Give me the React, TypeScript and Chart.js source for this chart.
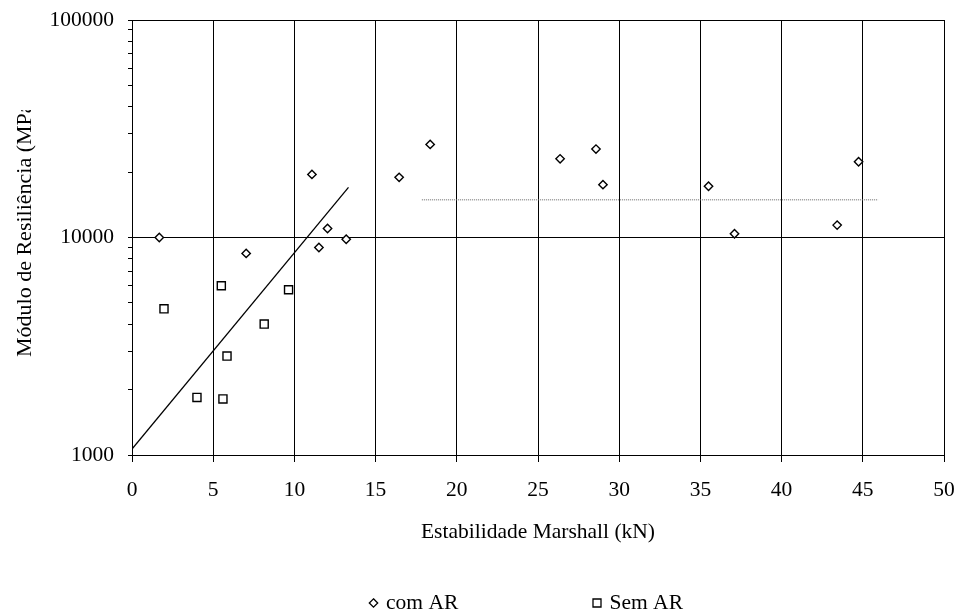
import React, { useEffect, useRef } from "react";
import { Chart, registerables } from "chart.js";

Chart.register(...registerables);

// ---- data ----
const comArX = [1.68, 7.03, 11.08, 12.04, 11.51, 13.19, 16.45, 18.36, 26.36, 28.57, 29.0, 35.5, 37.1, 43.42, 44.74];
const comArY = [10000, 8450, 19500, 11000, 9000, 9820, 18900, 26800, 23000, 25500, 17500, 17200, 10400, 11400, 22300];
const semArX = [1.97, 5.5, 9.64, 8.14, 5.85, 4.0, 5.6];
const semArY = [4700, 6000, 5750, 4000, 2850, 1840, 1810];
const trendX = [0, 13.33];
const trendY = [1066, 17000];
const meanX = [17.85, 45.94];
const meanY = [14900, 14900];
const xTickValues = [0, 5, 10, 15, 20, 25, 30, 35, 40, 45, 50];
const yTickValues = [
  1000, 2000, 3000, 4000, 5000, 6000, 7000, 8000, 9000,
  10000, 20000, 30000, 40000, 50000, 60000, 70000, 80000, 90000,
  100000,
];
const yMajorTicks = [1000, 10000, 100000];
const seriesLabels = ["com AR", "Sem AR"];
const xTitle = "Estabilidade Marshall (kN)";
const yTitle = "Módulo de Resiliência (MPa)";

const FONT_FAMILY = '"Liberation Serif", "Times New Roman", serif';
const FONT_SIZE = 21.5;

const toPoints = (xs: number[], ys: number[]) => xs.map((x, i) => ({ x, y: ys[i] }));

export default function App() {
  const ref = useRef<HTMLCanvasElement | null>(null);

  useEffect(() => {
    document.body.style.margin = "0";
    const canvas = ref.current;
    if (!canvas) return;

    const yTitlePlugin = {
      id: "yTitleClipped",
      afterDraw(chart: any) {
        const ctx = chart.ctx;
        ctx.save();
        ctx.beginPath();
        ctx.rect(0, 110, 60, 300);
        ctx.clip();
        ctx.translate(25, 357);
        ctx.rotate(-Math.PI / 2);
        ctx.textAlign = "left";
        ctx.textBaseline = "middle";
        ctx.fillStyle = "#000";
        ctx.font = `22px ${FONT_FAMILY}`;
        ctx.fillText(yTitle, 0, 0);
        ctx.restore();
      },
    };

    const legendPlugin = {
      id: "customLegend",
      afterDraw(chart: any) {
        const ctx = chart.ctx;
        const y = 603;
        const centers = [373.5, 597];
        ctx.save();
        ctx.font = `${FONT_SIZE}px ${FONT_FAMILY}`;
        ctx.textBaseline = "middle";
        ctx.textAlign = "left";
        ctx.fillStyle = "#000";
        ctx.strokeStyle = "#000";
        ctx.lineWidth = 1.3;
        chart.data.datasets
          .filter((d: any) => seriesLabels.includes(d.label))
          .forEach((d: any, i: number) => {
            const cx = centers[i];
            ctx.beginPath();
            if (d.pointStyle === "rectRot") {
              const r = 4.2;
              ctx.moveTo(cx, y - r);
              ctx.lineTo(cx + r, y);
              ctx.lineTo(cx, y + r);
              ctx.lineTo(cx - r, y);
              ctx.closePath();
            } else {
              const h = 4;
              ctx.rect(cx - h, y - h, 2 * h, 2 * h);
            }
            ctx.fillStyle = "#fff";
            ctx.fill();
            ctx.stroke();
            ctx.fillStyle = "#000";
            ctx.fillText(d.label, cx + 12.5, y);
          });
        ctx.restore();
      },
    };

    const font = { family: FONT_FAMILY, size: FONT_SIZE };

    const chart = new Chart(canvas, {
      type: "scatter",
      data: {
        datasets: [
          {
            type: "line",
            label: "trend",
            data: toPoints(trendX, trendY),
            borderColor: "#000",
            borderWidth: 1.3,
            pointRadius: 0,
            fill: false,
            tension: 0,
          },
          {
            type: "line",
            label: "mean",
            data: toPoints(meanX, meanY),
            borderColor: "#666",
            borderWidth: 1,
            borderDash: [1, 1],
            pointRadius: 0,
            fill: false,
            tension: 0,
          },
          {
            label: seriesLabels[0],
            data: toPoints(comArX, comArY),
            pointStyle: "rectRot",
            pointRadius: 4.2,
            pointBorderColor: "#000",
            pointBackgroundColor: "#fff",
            pointBorderWidth: 1.4,
            borderColor: "#000",
            backgroundColor: "#fff",
          },
          {
            label: seriesLabels[1],
            data: toPoints(semArX, semArY),
            pointStyle: "rect",
            pointRadius: 5.7,
            pointBorderColor: "#000",
            pointBackgroundColor: "#fff",
            pointBorderWidth: 1.4,
            borderColor: "#000",
            backgroundColor: "#fff",
          },
        ],
      },
      options: {
        responsive: false,
        animation: false,
        events: [],
        layout: { padding: { top: 20, right: 15, bottom: 58, left: 0 } },
        plugins: {
          legend: { display: false },
          tooltip: { enabled: false },
          title: { display: false },
        },
        scales: {
          x: {
            type: "linear",
            min: 0,
            max: 50,
            afterBuildTicks: (scale: any) => {
              scale.ticks = xTickValues.map((v) => ({ value: v }));
            },
            afterFit: (scale: any) => {
              scale.height = 100;
              scale.paddingLeft = 0;
              scale.paddingRight = 0;
            },
            ticks: {
              font,
              color: "#000",
              padding: 15,
              maxRotation: 0,
              autoSkip: false,
            },
            grid: {
              color: "#000",
              lineWidth: 1,
              tickLength: 7,
              tickColor: "#000",
            },
            border: { color: "#000", width: 1 },
            title: {
              display: true,
              text: xTitle,
              font,
              color: "#000",
              padding: { top: 0, bottom: 10 },
            },
          },
          y: {
            type: "logarithmic",
            min: 1000,
            max: 100000,
            afterBuildTicks: (scale: any) => {
              scale.ticks = yTickValues.map((v) => ({ value: v, major: yMajorTicks.includes(v) }));
            },
            afterFit: (scale: any) => {
              scale.width = 132;
              scale.paddingTop = 0;
              scale.paddingBottom = 0;
            },
            ticks: {
              font,
              color: "#000",
              padding: 14,
              autoSkip: false,
              callback: (v: any) => (yMajorTicks.includes(Number(v)) ? String(v) : ""),
            },
            grid: {
              color: (ctx: any) =>
                ctx.tick && yMajorTicks.includes(ctx.tick.value) ? "#000" : "rgba(0,0,0,0)",
              tickColor: "#000",
              tickLength: 4,
              lineWidth: 1,
            },
            border: { color: "#000", width: 1 },
          },
        },
      },
      plugins: [yTitlePlugin, legendPlugin],
    } as any);

    return () => chart.destroy();
  }, []);

  return (
    <div style={{ width: 959, height: 613, background: "#fff" }}>
      <canvas ref={ref} width={959} height={613} style={{ display: "block" }} />
    </div>
  );
}
